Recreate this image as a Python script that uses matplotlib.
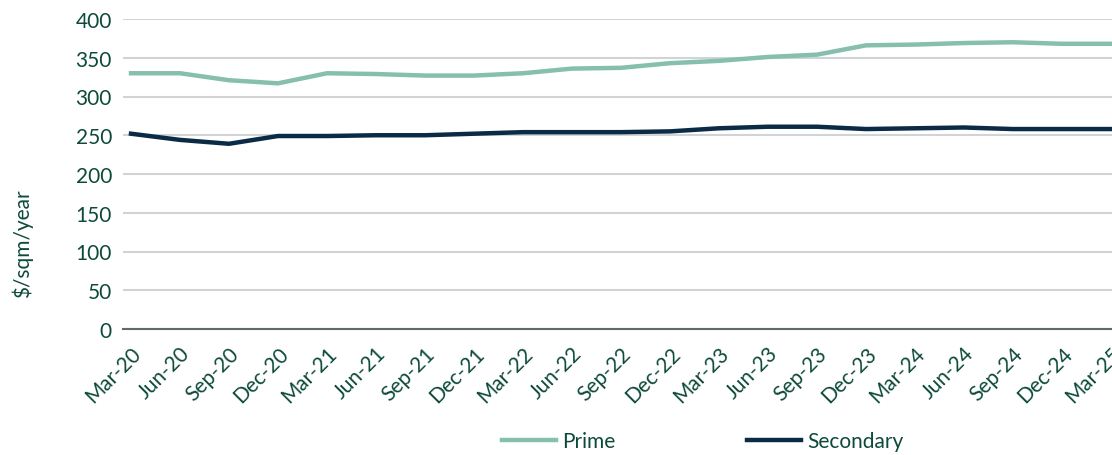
import matplotlib.pyplot as plt
import numpy as np

quarters = ["Mar-20", "Jun-20", "Sep-20", "Dec-20", "Mar-21", "Jun-21", "Sep-21",
            "Dec-21", "Mar-22", "Jun-22", "Sep-22", "Dec-22", "Mar-23", "Jun-23",
            "Sep-23", "Dec-23", "Mar-24", "Jun-24", "Sep-24", "Dec-24", "Mar-25"]
prime = [330, 330, 321, 317, 330, 329, 327, 327, 330, 336, 337,
         343, 346, 351, 354, 366, 367, 369, 370, 368, 368]
secondary = [252, 244, 239, 249, 249, 250, 250, 252, 254, 254, 254,
             255, 259, 261, 261, 258, 259, 260, 258, 258, 258]

def main():
    plt.rcParams['font.family'] = ['Lato', 'DejaVu Sans']
    text_color = "#0d4a3a"
    prime_color = "#86bfae"
    sec_color = "#0b2a45"

    fig = plt.figure(figsize=(11.12, 4.56), dpi=100)
    ax = fig.add_axes([123 / 1112, 1 - 330 / 456, 1 - 123 / 1112, 310 / 456])

    x = np.arange(len(quarters))
    ax.plot(x, prime, color=prime_color, linewidth=3.2, label="Prime")
    ax.plot(x, secondary, color=sec_color, linewidth=3.2, label="Secondary")

    ax.set_ylim(0, 400)
    ax.set_xlim(-8 / 49, 20 + 1 / 49)
    ax.set_yticks(np.arange(0, 401, 50))
    ax.yaxis.grid(True, color="#d0d4d6", linewidth=1.5)
    ax.set_axisbelow(True)
    for s in ["top", "right", "left"]:
        ax.spines[s].set_visible(False)
    ax.spines["bottom"].set_color("#5f6a6a")
    ax.spines["bottom"].set_linewidth(1.5)
    ax.tick_params(length=0, labelsize=15, colors=text_color, pad=8)
    ax.set_xticks(x)
    ax.set_xticklabels(quarters, rotation=45, ha="right", rotation_mode="anchor")
    ax.tick_params(axis="x", pad=10)
    ax.set_ylabel("\\$/sqm/year", fontsize=15, color=text_color)
    ax.yaxis.set_label_coords(-0.091, 0.28)

    fig.legend(loc="center", bbox_to_anchor=(703 / 1112, 1 - 442 / 456), ncol=2,
               frameon=False, fontsize=15, labelcolor=text_color, columnspacing=6.3,
               handlelength=2.6, handletextpad=0.3)

    fig.savefig("out.png", dpi=100)

if __name__ == "__main__":
    main()
